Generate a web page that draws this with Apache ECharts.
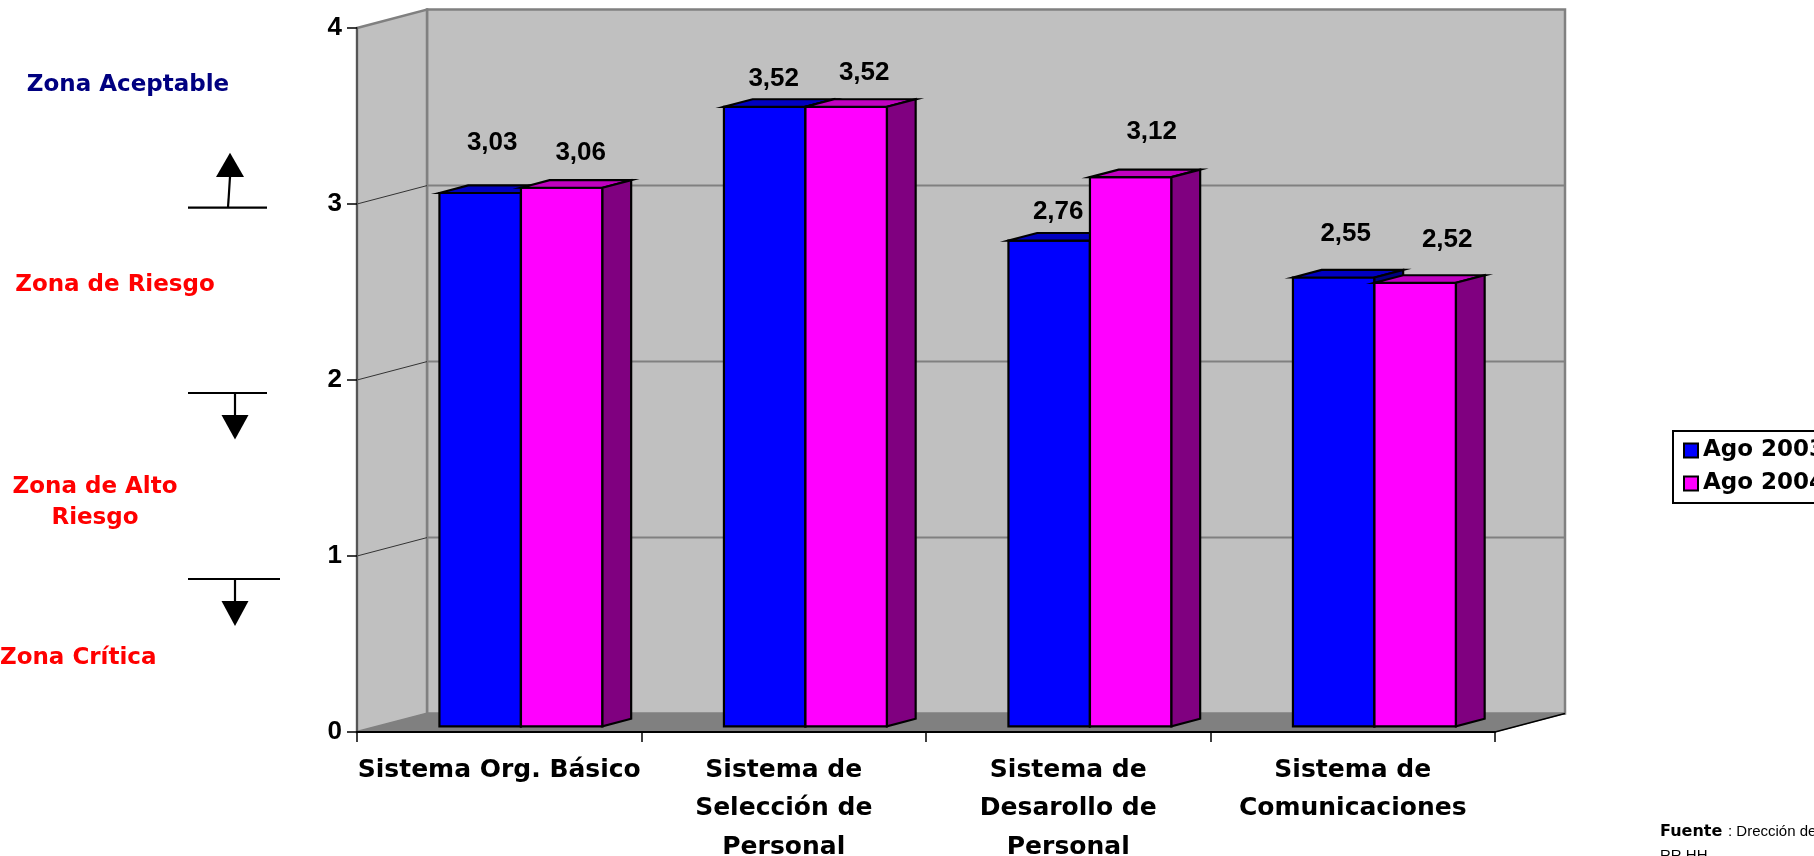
<!DOCTYPE html>
<html>
<head>
<meta charset="utf-8">
<script src="https://cdn.jsdelivr.net/npm/echarts@6/dist/echarts.min.js"></script>
<style>
html,body{margin:0;padding:0;background:#ffffff;overflow:hidden}
#chart{width:1814px;height:856px}
</style>
</head>
<body>
<div id="chart"></div>
<script>
// ---------- data ----------
const CATEGORIES = [
  'Sistema Org. Básico',
  'Sistema de\nSelección de\nPersonal',
  'Sistema de\nDesarollo de\nPersonal',
  'Sistema de\nComunicaciones'
];
const SERIES_NAMES = ['Ago 2003', 'Ago 2004'];
const AGO_2003 = [3.03, 3.52, 2.76, 2.55];
const AGO_2004 = [3.06, 3.52, 3.12, 2.52];
const Y_TICKS = [0, 1, 2, 3, 4];
const ZONE_LABELS = ['Zona Aceptable', 'Zona de Riesgo', 'Zona de Alto\nRiesgo', 'Zona Crítica'];
const SOURCE_LABEL = ['Fuente', ': Drección de', 'RR.HH.'];

// ---------- 3D look (style) ----------
const DX = 70, DY = -18.4;          // depth offset of the back wall in px
const Z0 = 0.31, Z1 = 0.72;          // bar front / back depth fraction
const BAR_FRAC = 0.2865;             // bar width as fraction of category band
const FACE = [
  { front: '#0000FF', top: '#0000C0', side: '#000080' },
  { front: '#FF00FF', top: '#C000C0', side: '#800080' }
];
// label placement (offset from the bar's front-top centre, px) as in the original
const LABEL_SHIFT = [
  [[12, 50], [9, 28], [9, 29], [12, 44]],
  [[19, 35], [18, 34], [21, 45], [32, 43]]
];

function fmt(v) { return v.toFixed(2).replace('.', ','); }

function barRenderer(si) {
  return function (params, api) {
    const ci = api.value(0), v = api.value(1);
    const pTop = api.coord([ci, v]);
    const pBase = api.coord([ci, 0]);
    const band = api.size([1, 0])[0];
    const bw = band * BAR_FRAC;
    const x0 = pTop[0] - bw + si * bw + Z0 * DX;
    const x1 = x0 + bw;
    const yT = pTop[1] + Z0 * DY;
    const yB = pBase[1] + Z0 * DY;
    const ex = (Z1 - Z0) * DX, ey = (Z1 - Z0) * DY;
    const c = FACE[si];
    const sh = LABEL_SHIFT[si][params.dataIndex];
    const st = (fill) => ({ fill: fill, stroke: '#000', lineWidth: 2.2, lineJoin: 'miter' });
    return {
      type: 'group',
      children: [
        { type: 'polygon', shape: { points: [[x0, yT], [x1, yT], [x1, yB], [x0, yB]] }, style: st(c.front) },
        { type: 'polygon', shape: { points: [[x0, yT], [x0 + ex, yT + ey], [x1 + ex, yT + ey], [x1, yT]] }, style: st(c.top) },
        { type: 'polygon', shape: { points: [[x1, yT], [x1 + ex, yT + ey], [x1 + ex, yB + ey], [x1, yB]] }, style: st(c.side) },
        {
          type: 'text', x: (x0 + x1) / 2 + sh[0], y: yT - sh[1],
          style: {
            text: fmt(v), fill: '#000', font: 'bold 26px "Liberation Sans", Arial, sans-serif',
            align: 'center', verticalAlign: 'middle', textAlign: 'center', textVerticalAlign: 'middle'
          }
        }
      ]
    };
  };
}

function wallRenderer(params, api) {
  const cs = params.coordSys;
  const x0 = cs.x, x1 = cs.x + cs.width, yT = cs.y, yB = cs.y + cs.height;
  const ch = [];
  ch.push({ type: 'polygon', shape: { points: [[x0 + DX, yT + DY], [x1 + DX, yT + DY], [x1 + DX, yB + DY], [x0 + DX, yB + DY]] },
    style: { fill: '#C0C0C0', stroke: '#808080', lineWidth: 2.5 } });
  ch.push({ type: 'polygon', shape: { points: [[x0, yT], [x0 + DX, yT + DY], [x0 + DX, yB + DY], [x0, yB]] },
    style: { fill: '#C0C0C0', stroke: '#808080', lineWidth: 2.5 } });
  ch.push({ type: 'polygon', shape: { points: [[x0, yB], [x0 + DX, yB + DY], [x1 + DX, yB + DY], [x1, yB]] },
    style: { fill: '#808080', stroke: '#808080', lineWidth: 1 } });
  ch.push({ type: 'line', shape: { x1: x1, y1: yB, x2: x1 + DX, y2: yB + DY }, style: { stroke: '#000', lineWidth: 1.5 } });
  const last = Y_TICKS[Y_TICKS.length - 1];
  Y_TICKS.forEach(function (t) {
    if (t === 0 || t === last) return;
    const y = api.coord([0, t])[1];
    ch.push({ type: 'line', shape: { x1: x0 + DX, y1: y + DY, x2: x1 + DX, y2: y + DY }, style: { stroke: '#808080', lineWidth: 2 } });
    ch.push({ type: 'line', shape: { x1: x0, y1: y, x2: x0 + DX, y2: y + DY }, style: { stroke: '#333', lineWidth: 1 } });
  });
  return { type: 'group', children: ch };
}

const zoneFont = 'bold 23px "DejaVu Sans", sans-serif';
function arrow(lx1, lx2, ly, sx1, sx2, tipY, baseY, halfW) {
  return [
    { type: 'line', shape: { x1: lx1, y1: ly, x2: lx2, y2: ly }, style: { stroke: '#000', lineWidth: 2.2 } },
    { type: 'line', shape: { x1: sx1, y1: ly, x2: sx2, y2: baseY }, style: { stroke: '#000', lineWidth: 2.2 } },
    { type: 'polygon', shape: { points: [[sx2 - halfW, baseY], [sx2 + halfW, baseY], [sx2, tipY]] }, style: { fill: '#000' } }
  ];
}

const chart = echarts.init(document.getElementById('chart'), null, { renderer: 'canvas' });
chart.setOption({
  animation: false,
  backgroundColor: '#ffffff',
  grid: { left: 357, top: 28, right: 319, bottom: 124, containLabel: false, outerBoundsMode: 'none' },
  xAxis: {
    type: 'category', data: CATEGORIES, z: 10,
    axisLine: { show: true, lineStyle: { color: '#000', width: 2 } },
    axisTick: { show: true, length: 10, alignWithLabel: false, lineStyle: { color: '#000', width: 1.5 } },
    axisLabel: {
      interval: 0, color: '#000', fontFamily: 'DejaVu Sans', fontWeight: 'bold', fontSize: 25,
      lineHeight: 38.5, margin: 19
    },
    splitLine: { show: false }
  },
  yAxis: {
    type: 'value', min: 0, max: 4, interval: 1, z: 10,
    axisLine: { show: true, lineStyle: { color: '#555', width: 2 } },
    axisTick: { show: true, length: 10, lineStyle: { color: '#000', width: 1.5 } },
    axisLabel: { color: '#000', fontFamily: 'Liberation Sans', fontWeight: 'bold', fontSize: 26, margin: 15 },
    splitLine: { show: false }
  },
  legend: {
    orient: 'vertical', left: 1673, top: 431,
    data: SERIES_NAMES, selectedMode: false,
    icon: 'rect', itemWidth: 14, itemHeight: 14, itemGap: 10,
    itemStyle: { borderColor: '#000', borderWidth: 2 },
    textStyle: { fontFamily: 'DejaVu Sans', fontWeight: 'bold', fontSize: 23, color: '#000', lineHeight: 23 },
    padding: [8, 10, 8, 10], borderColor: '#000', borderWidth: 2, backgroundColor: '#fff'
  },
  series: [
    {
      type: 'custom', name: 'walls', z: 0, silent: true,
      renderItem: wallRenderer, data: [[0, 0]], tooltip: { show: false }
    },
    {
      type: 'custom', name: SERIES_NAMES[0], z: 2,
      itemStyle: { color: FACE[0].front },
      renderItem: barRenderer(0),
      data: AGO_2003.map(function (v, i) { return [i, v]; })
    },
    {
      type: 'custom', name: SERIES_NAMES[1], z: 2,
      itemStyle: { color: FACE[1].front },
      renderItem: barRenderer(1),
      data: AGO_2004.map(function (v, i) { return [i, v]; })
    }
  ],
  graphic: [
    { type: 'text', x: 128, y: 85, style: { text: ZONE_LABELS[0], fill: '#000080', font: zoneFont, align: 'center', verticalAlign: 'middle' } },
    { type: 'text', x: 115, y: 285, style: { text: ZONE_LABELS[1], fill: '#FF0000', font: zoneFont, align: 'center', verticalAlign: 'middle' } },
    { type: 'text', x: 95, y: 502.5, style: { text: ZONE_LABELS[2], fill: '#FF0000', font: zoneFont, align: 'center', verticalAlign: 'middle', lineHeight: 31 } },
    { type: 'text', x: 0, y: 658, style: { text: ZONE_LABELS[3], fill: '#FF0000', font: zoneFont, align: 'left', verticalAlign: 'middle' } }
  ].concat(
    arrow(188, 267, 207.7, 228, 230, 152.7, 177, 14),
    arrow(188, 267, 393, 235, 235, 439.5, 415, 13.5),
    arrow(188, 280, 579, 235, 235, 626, 601, 13.5),
    [
      { type: 'text', x: 1660, y: 832, style: { text: SOURCE_LABEL[0], fill: '#000', font: 'bold 16px "DejaVu Sans", sans-serif', align: 'left', verticalAlign: 'middle' } },
      { type: 'text', x: 1728, y: 832, style: { text: SOURCE_LABEL[1], fill: '#000', font: '15px "Liberation Sans", Arial, sans-serif', align: 'left', verticalAlign: 'middle' } },
      { type: 'text', x: 1660, y: 856, style: { text: SOURCE_LABEL[2], fill: '#000', font: '15px "Liberation Sans", Arial, sans-serif', align: 'left', verticalAlign: 'middle' } }
    ]
  )
});
</script>
</body>
</html>
